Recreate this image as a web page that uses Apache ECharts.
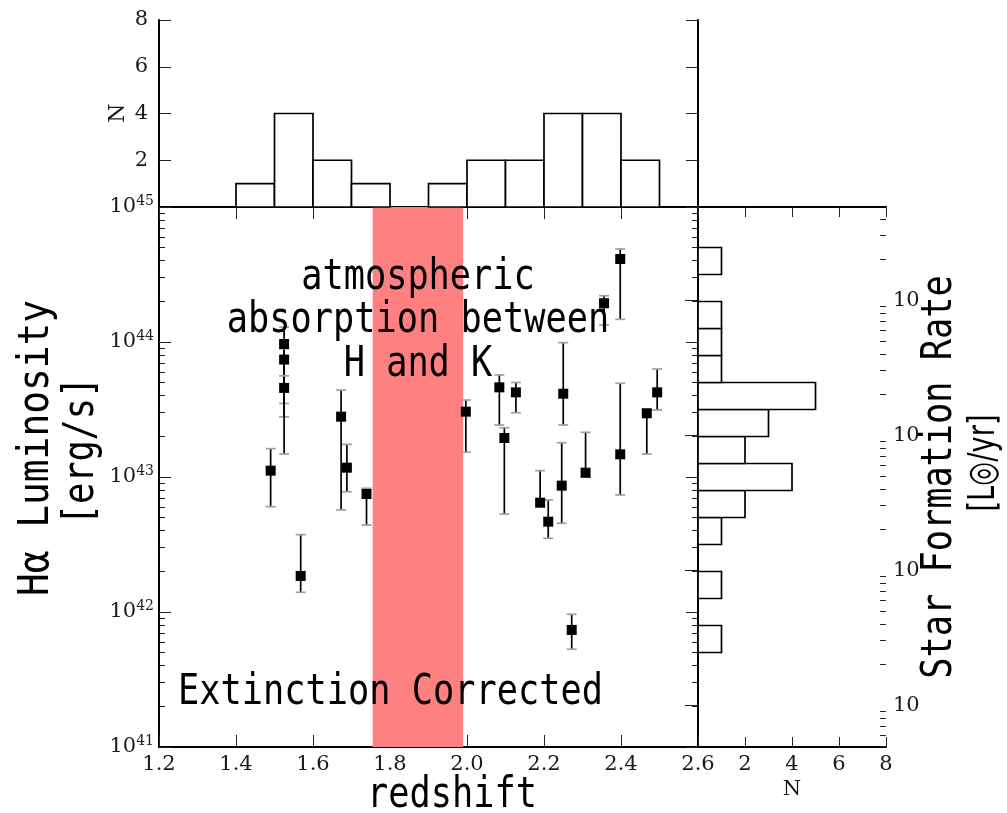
<!DOCTYPE html>
<html><head><meta charset="utf-8">
<script src="https://cdn.jsdelivr.net/npm/echarts@6/dist/echarts.min.js"></script>
<style>html,body{margin:0;padding:0;background:#fff}#c{width:1007px;height:813px}</style>
</head><body><div id="c"></div>
<script>
// ---- data ----
const redshift = [1.490,1.525,1.525,1.525,1.673,1.688,1.739,1.568,1.997,2.084,2.127,2.097,2.250,2.356,2.398,2.467,2.494,2.398,2.308,2.246,2.190,2.211,2.272];
const logLum   = [43.047,43.985,43.870,43.660,43.447,43.069,42.874,42.267,43.484,43.664,43.627,43.289,43.617,44.287,44.615,43.472,43.627,43.168,43.032,42.936,42.810,42.669,41.867];
const logLumLo = [42.78,43.545,43.445,43.17,42.756,42.891,42.644,42.146,43.183,43.385,43.476,42.726,43.385,44.126,44.168,43.17,43.496,42.867,42.998,42.657,42.78,42.546,41.724];
const logLumHi = [43.21,44.11,43.95,43.75,43.644,43.242,42.916,42.573,43.57,43.756,43.70,43.365,43.995,44.343,44.689,43.50,43.80,43.694,43.331,43.254,43.047,42.83,41.983];

const zBinStart = [1.4,1.5,1.6,1.7,1.8,1.9,2.0,2.1,2.2,2.3,2.4];
const zBinCount = [1,4,2,1,0,1,2,2,4,4,2];
const zBinWidth = 0.1;

const lumBinLogStart = [41.7,41.9,42.1,42.3,42.5,42.7,42.9,43.1,43.3,43.5,43.7,43.9,44.1,44.3,44.5];
const lumBinCount    = [1,0,1,0,1,2,4,2,3,5,1,1,1,0,1];
const lumBinWidthLog = 0.2;

const bandRange = [1.755, 1.99];
const sfrOffsetLog = 41.31;
const sfrMajor = [1,10,100,1000];
const annotation = ['atmospheric','absorption between','H and K'];

// ---- helpers ----
const serif = 'DejaVu Serif';
const mono = 'DejaVu Sans Mono';
const ink = '#1a1a1a';
const lumMin = 1e41, lumMax = 1e45;
const sfrMin = Math.pow(10, 41 - sfrOffsetLog), sfrMax = Math.pow(10, 45 - sfrOffsetLog);
function minorList(lo, hi){
  const out = [];
  for (let k = -3; k <= 46; k++) for (let m = 2; m <= 9; m++) {
    const v = m * Math.pow(10, k);
    if (v > lo && v < hi) out.push(v);
  }
  return out;
}
const lumMinor = minorList(lumMin, lumMax);
const sfrMinor = minorList(sfrMin, sfrMax);

const G0 = {left:159, top:207, width:539, height:540};
const G1 = {left:159, top:20, width:539, height:187};
const G2 = {left:698, top:207, width:188, height:540};

const lineS = {show:true, lineStyle:{color:'#000', width:2}};
const noLine = {show:false};
const tick = (len, extra) => Object.assign({show:true, inside:true, length:len, lineStyle:{color:'#222', width:1}}, extra||{});
const noLabel = {show:false};
const numLabel = (extra) => Object.assign({fontFamily:serif, fontSize:21, color:ink}, extra||{});

const chart = echarts.init(document.getElementById('c'), null, {renderer:'canvas'});

const option = {
  animation:false,
  backgroundColor:'#fff',
  grid:[G0, G1, G2],
  xAxis:[
    {gridIndex:0, type:'value', position:'bottom', min:1.2, max:2.6, interval:0.2,
     axisLine:lineS, axisTick:tick(12), splitLine:{show:false},
     axisLabel:numLabel({margin:7, formatter:v=>v.toFixed(1), showMinLabel:true, showMaxLabel:true})},
    {gridIndex:0, type:'value', position:'top', min:1.2, max:2.6, interval:0.2,
     axisLine:lineS, axisTick:tick(12), splitLine:{show:false}, axisLabel:noLabel},
    {gridIndex:1, type:'value', position:'bottom', min:1.2, max:2.6, interval:0.2,
     axisLine:noLine, axisTick:{show:false}, splitLine:{show:false}, axisLabel:noLabel},
    {gridIndex:1, type:'value', position:'top', min:1.2, max:2.6, interval:0.2,
     axisLine:lineS, axisTick:{show:false}, splitLine:{show:false}, axisLabel:noLabel},
    {gridIndex:2, type:'value', position:'bottom', min:0, max:8, interval:2,
     axisLine:lineS, axisTick:tick(10), splitLine:{show:false},
     axisLabel:numLabel({margin:7, formatter:v=> v===0 ? '' : String(v)})},
    {gridIndex:2, type:'value', position:'top', min:0, max:8, interval:2,
     axisLine:lineS, axisTick:tick(10), splitLine:{show:false}, axisLabel:noLabel}
  ],
  yAxis:[
    {gridIndex:0, type:'log', logBase:10, position:'left', min:lumMin, max:lumMax,
     axisLine:lineS, axisTick:tick(12), splitLine:{show:false},
     axisLabel:{margin:5, showMinLabel:true, showMaxLabel:true,
       formatter:v=>'{b|10}{s|'+Math.round(Math.log10(v))+'}',
       rich:{b:{fontFamily:serif, fontSize:21, color:ink},
             s:{fontFamily:serif, fontSize:14, color:ink, padding:[0,0,12,0]}}}},
    {gridIndex:0, type:'log', logBase:10, position:'left', min:lumMin, max:lumMax,
     axisLine:noLine, axisTick:tick(6, {customValues:lumMinor}), splitLine:{show:false}, axisLabel:noLabel},
    {gridIndex:0, type:'log', logBase:10, position:'right', min:lumMin, max:lumMax,
     axisLine:lineS, axisTick:tick(12), splitLine:{show:false}, axisLabel:noLabel},
    {gridIndex:0, type:'log', logBase:10, position:'right', min:lumMin, max:lumMax,
     axisLine:noLine, axisTick:tick(6, {customValues:lumMinor}), splitLine:{show:false}, axisLabel:noLabel},
    {gridIndex:1, type:'value', position:'left', min:0, max:8, interval:2,
     axisLine:lineS, axisTick:tick(12), splitLine:{show:false},
     axisLabel:numLabel({margin:11, formatter:v=> v===0 ? '' : String(v)})},
    {gridIndex:1, type:'value', position:'right', min:0, max:8, interval:2,
     axisLine:lineS, axisTick:tick(12), splitLine:{show:false}, axisLabel:noLabel},
    {gridIndex:2, type:'log', logBase:10, position:'left', min:lumMin, max:lumMax,
     axisLine:noLine, axisTick:{show:false}, splitLine:{show:false}, axisLabel:noLabel},
    {gridIndex:2, type:'log', logBase:10, position:'right', min:sfrMin, max:sfrMax,
     axisLine:lineS, axisTick:tick(13, {customValues:sfrMajor}), splitLine:{show:false},
     axisLabel:numLabel({margin:7, customValues:sfrMajor, formatter:()=> '10'})},
    {gridIndex:2, type:'log', logBase:10, position:'right', min:sfrMin, max:sfrMax,
     axisLine:noLine, axisTick:tick(6, {customValues:sfrMinor}), splitLine:{show:false}, axisLabel:noLabel}
  ],
  series:[
    {type:'scatter', xAxisIndex:0, yAxisIndex:0, data:[], silent:true,
     markArea:{silent:true, itemStyle:{color:'#ff8080', opacity:1},
       data:[[{xAxis:bandRange[0]},{xAxis:bandRange[1]}]]}, z:1},
    {type:'custom', xAxisIndex:0, yAxisIndex:0, silent:true, z:3,
     encode:{x:0, y:[1,2]},
     data: redshift.map((z,i)=>[z, Math.pow(10,logLumLo[i]), Math.pow(10,logLumHi[i])]),
     renderItem:(params, api)=>{
       const x = api.value(0);
       const pLo = api.coord([x, api.value(1)]);
       const pHi = api.coord([x, api.value(2)]);
       const cw = 5;
       return {type:'group', children:[
         {type:'line', shape:{x1:pLo[0], y1:pLo[1], x2:pHi[0], y2:pHi[1]}, style:{stroke:'#000', lineWidth:1.7}},
         {type:'line', shape:{x1:pLo[0]-cw, y1:pLo[1], x2:pLo[0]+cw, y2:pLo[1]}, style:{stroke:'#a0a0a0', lineWidth:1.7}},
         {type:'line', shape:{x1:pHi[0]-cw, y1:pHi[1], x2:pHi[0]+cw, y2:pHi[1]}, style:{stroke:'#a0a0a0', lineWidth:1.7}}
       ]};
     }},
    {type:'scatter', xAxisIndex:0, yAxisIndex:0, silent:true, z:4,
     symbol:'rect', symbolSize:10, itemStyle:{color:'#000', opacity:1},
     data: redshift.map((z,i)=>[z, Math.pow(10,logLum[i])])},
    {type:'custom', xAxisIndex:2, yAxisIndex:4, silent:true, z:3,
     encode:{x:[0,1], y:2},
     data: zBinStart.map((s,i)=>[s, s+zBinWidth, zBinCount[i]]).filter(d=>d[2]>0),
     renderItem:(params, api)=>{
       const p0 = api.coord([api.value(0), 0]);
       const p1 = api.coord([api.value(1), api.value(2)]);
       return {type:'rect', shape:{x:p0[0], y:p1[1], width:p1[0]-p0[0], height:p0[1]-p1[1]},
               style:{fill:'#fff', stroke:'#000', lineWidth:1.7}};
     }},
    {type:'custom', xAxisIndex:4, yAxisIndex:6, silent:true, z:3,
     encode:{x:0, y:[1,2]},
     data: lumBinLogStart.map((s,i)=>[lumBinCount[i], Math.pow(10,s), Math.pow(10,s+lumBinWidthLog)]).filter(d=>d[0]>0),
     renderItem:(params, api)=>{
       const p0 = api.coord([0, api.value(2)]);
       const p1 = api.coord([api.value(0), api.value(1)]);
       return {type:'rect', shape:{x:p0[0], y:p0[1], width:p1[0]-p0[0], height:p1[1]-p0[1]},
               style:{fill:'#fff', stroke:'#000', lineWidth:1.7}};
     }}
  ],
  graphic:[
    {type:'text', x:418, y:278.5, z:100, scaleX:0.84, style:{text:annotation[0], font:'42px "'+mono+'"', fill:'#000', textAlign:'center', textVerticalAlign:'middle'}},
    {type:'text', x:418, y:321.5, z:100, scaleX:0.84, style:{text:annotation[1], font:'42px "'+mono+'"', fill:'#000', textAlign:'center', textVerticalAlign:'middle'}},
    {type:'text', x:418, y:365.5, z:100, scaleX:0.84, style:{text:annotation[2], font:'42px "'+mono+'"', fill:'#000', textAlign:'center', textVerticalAlign:'middle'}},
    {type:'text', x:390.5, y:693.5, z:100, scaleX:0.84, style:{text:'Extinction Corrected', font:'42px "'+mono+'"', fill:'#000', textAlign:'center', textVerticalAlign:'middle'}},
    {type:'text', x:452, y:796.5, z:100, scaleX:0.84, style:{text:'redshift', font:'42px "'+mono+'"', fill:'#000', textAlign:'center', textVerticalAlign:'middle'}},
    {type:'text', x:37, y:448, z:100, rotation:Math.PI/2, scaleX:0.9, style:{text:'Hα Luminosity', font:'42px "'+mono+'"', fill:'#000', textAlign:'center', textVerticalAlign:'middle'}},
    {type:'text', x:82, y:451, z:100, rotation:Math.PI/2, scaleX:0.84, style:{text:'[erg/s]', font:'42px "'+mono+'"', fill:'#000', textAlign:'center', textVerticalAlign:'middle'}},
    {type:'text', x:940, y:477, z:100, rotation:Math.PI/2, scaleX:0.84, style:{text:'Star Formation Rate', font:'42px "'+mono+'"', fill:'#000', textAlign:'center', textVerticalAlign:'middle'}},
    {type:'text', x:984, y:463, z:100, rotation:Math.PI/2, scaleX:0.72, style:{text:'[L◎/yr]', font:'38px "DejaVu Sans"', fill:'#000', textAlign:'center', textVerticalAlign:'middle'}},
    {type:'text', x:118, y:113, z:100, rotation:Math.PI/2, style:{text:'N', font:'22px "'+serif+'"', fill:ink, textAlign:'center', textVerticalAlign:'middle'}},
    {type:'text', x:792, y:790, z:100, style:{text:'N', font:'21px "'+serif+'"', fill:ink, textAlign:'center', textVerticalAlign:'middle'}}
  ]
};
chart.setOption(option);
</script></body></html>
